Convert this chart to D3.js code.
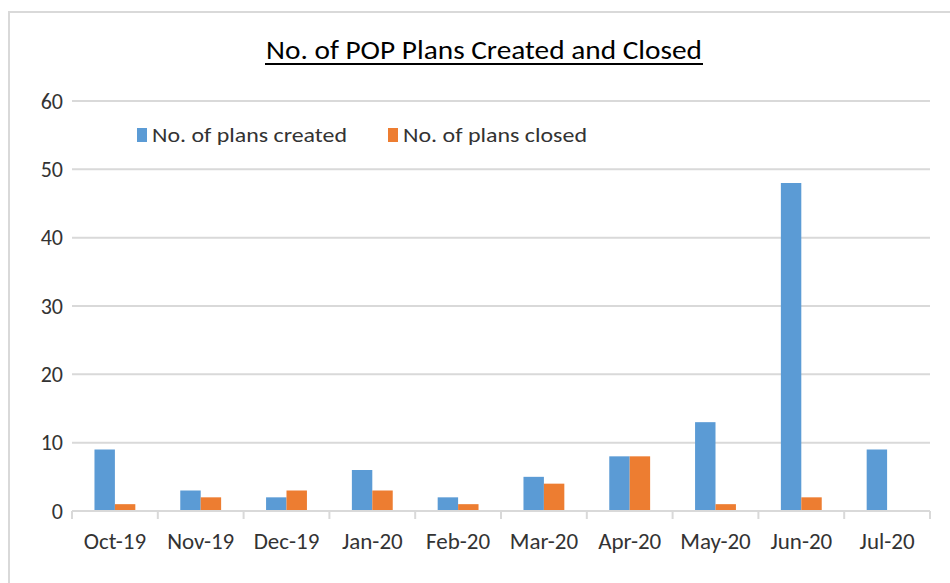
<!DOCTYPE html>
<html>
<head>
<meta charset="utf-8">
<script src="https://cdn.jsdelivr.net/npm/d3@7"></script>
<style>
  body { margin: 0; background: #fff; }
  svg { display: block; font-family: Carlito, "Noto Sans", sans-serif; }
</style>
</head>
<body>
<div id="chart"></div>
<script>
const months = ["Oct-19", "Nov-19", "Dec-19", "Jan-20", "Feb-20", "Mar-20", "Apr-20", "May-20", "Jun-20", "Jul-20"];
const created = [9, 3, 2, 6, 2, 5, 8, 13, 48, 9];
const closed = [1, 2, 3, 3, 1, 4, 8, 1, 2, 0];
const seriesNames = ["No. of plans created", "No. of plans closed"];
const colors = ["#5b9bd5", "#ed7d31"];
const yTicks = [0, 10, 20, 30, 40, 50, 60];

const W = 950, H = 583;
const margin = {top: 101, right: 20, bottom: 72, left: 72};

const svg = d3.select("#chart").append("svg")
  .attr("width", W)
  .attr("height", H);

// outer chart frame (runs off the right and bottom)
svg.append("rect")
  .attr("x", 9).attr("y", 12)
  .attr("width", 1000).attr("height", 700)
  .attr("fill", "none")
  .attr("stroke", "#d9d9d9")
  .attr("stroke-width", 2);

const x = d3.scaleBand().domain(months).range([margin.left, 930]);
const inner = d3.scaleBand().domain([0, 1]).range([0, x.bandwidth()]).paddingInner(0).paddingOuter(1.1);
const y = d3.scaleLinear().domain([0, 60]).range([511, margin.top]);

// gridlines
svg.append("g")
  .selectAll("line")
  .data(yTicks.filter(d => d > 0))
  .join("line")
    .attr("x1", margin.left).attr("x2", 930)
    .attr("y1", d => y(d)).attr("y2", d => y(d))
    .attr("stroke", "#d9d9d9")
    .attr("stroke-width", 2);

// y labels
const yAxis = svg.append("g")
  .attr("transform", "translate(" + (margin.left - 9) + ",0)")
  .call(d3.axisLeft(y).tickValues(yTicks).tickSize(0).tickPadding(0))
  .attr("font-family", null);
yAxis.select(".domain").remove();
yAxis.selectAll("text")
  .attr("font-size", "22px")
  .attr("fill", "#333");

// bars
const data = months.map((m, i) => ({month: m, values: [created[i], closed[i]]}));
const groups = svg.append("g")
  .selectAll("g")
  .data(data)
  .join("g")
    .attr("transform", d => "translate(" + x(d.month) + ",0)");
groups.selectAll("rect")
  .data(d => d.values.map((v, k) => ({k: k, v: v})))
  .join("rect")
    .attr("x", d => inner(d.k))
    .attr("width", inner.bandwidth())
    .attr("y", d => y(d.v))
    .attr("height", d => y(0) - y(d.v))
    .attr("fill", d => colors[d.k]);

// x axis
const xAxis = svg.append("g")
  .attr("transform", "translate(0," + y(0) + ")")
  .call(d3.axisBottom(x).tickSize(0).tickPadding(22))
  .attr("font-family", null);
xAxis.select(".domain").remove();
xAxis.selectAll("text")
  .attr("font-size", "23px")
  .attr("fill", "#333");
svg.append("line")
  .attr("x1", margin.left).attr("x2", 930)
  .attr("y1", y(0)).attr("y2", y(0))
  .attr("stroke", "#d9d9d9").attr("stroke-width", 2);
svg.append("g")
  .selectAll("line")
  .data(d3.range(months.length + 1))
  .join("line")
    .attr("x1", i => margin.left + i * x.step())
    .attr("x2", i => margin.left + i * x.step())
    .attr("y1", y(0)).attr("y2", y(0) + 8)
    .attr("stroke", "#d9d9d9").attr("stroke-width", 2);

// title
svg.append("text")
  .attr("x", 484).attr("y", 59)
  .attr("text-anchor", "middle")
  .attr("font-size", "26px")
  .attr("fill", "#000")
  .attr("textLength", 436)
  .attr("lengthAdjust", "spacingAndGlyphs")
  .text("No. of POP Plans Created and Closed");
svg.append("line")
  .attr("x1", 265).attr("x2", 703)
  .attr("y1", 64).attr("y2", 64)
  .attr("stroke", "#000").attr("stroke-width", 2);

// legend
const legendX = [137, 388];
const legendW = [195, 184];
const legend = svg.append("g")
  .selectAll("g")
  .data(seriesNames)
  .join("g")
    .attr("transform", (d, i) => "translate(" + legendX[i] + ",135)");
legend.append("rect")
  .attr("x", 0).attr("y", -7)
  .attr("width", 10).attr("height", 14)
  .attr("fill", (d, i) => colors[i]);
legend.append("text")
  .attr("x", 15).attr("y", 7)
  .attr("font-size", "21px")
  .attr("fill", "#333")
  .attr("textLength", (d, i) => legendW[i])
  .attr("lengthAdjust", "spacingAndGlyphs")
  .text(d => d);
</script>
</body>
</html>
